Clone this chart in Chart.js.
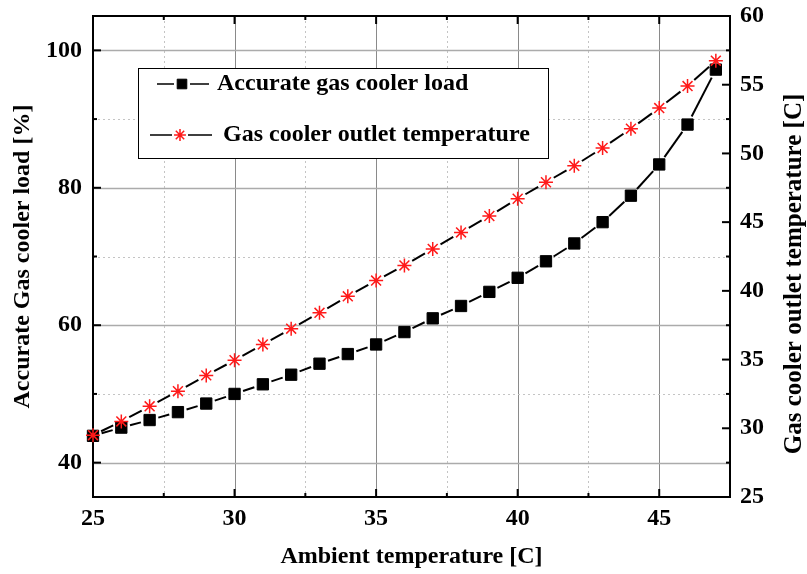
<!DOCTYPE html>
<html>
<head>
<meta charset="utf-8">
<script src="https://cdn.jsdelivr.net/npm/chart.js@4/dist/chart.umd.min.js"></script>
<style>
  html, body { margin: 0; padding: 0; background: #fff; }
  #wrap { width: 807px; height: 574px; position: relative; }
</style>
</head>
<body>
<div id="wrap"><canvas id="chart"></canvas></div>
<script>
// ambient temperature [C]
const ambientT = [25, 26, 27, 28, 29, 30, 31, 32, 33, 34, 35, 36, 37, 38, 39, 40, 41, 42, 43, 44, 45, 46, 47];
// accurate gas cooler load [%]
const coolerLoad = [43.9, 45.1, 46.2, 47.35, 48.6, 50.0, 51.4, 52.8, 54.4, 55.8, 57.2, 59.0, 61.0, 62.8, 64.85,
  66.9, 69.3, 71.9, 75.0, 78.85, 83.4, 89.2, 97.2];
// gas cooler outlet temperature [C]
const outletT = [29.5, 30.5, 31.6, 32.7, 33.85, 34.95, 36.1, 37.25, 38.4, 39.6, 40.75, 41.85, 43.05, 44.25, 45.45,
  46.7, 47.9, 49.1, 50.4, 51.8, 53.3, 54.9, 56.75];

const xTicks = [25, 30, 35, 40, 45];
const loadTicks = [40, 60, 80, 100];
const outletTicks = [25, 30, 35, 40, 45, 50, 55, 60];

const serif = "'Liberation Serif', 'Times New Roman', serif";
const tickFont = { family: serif, size: 24, weight: 'bold' };
const titleFont = { family: serif, size: 24, weight: 'bold' };

const setTicks = list => scale => { scale.ticks = list.map(v => ({ value: v })); };
// keep the plot box fixed: no extra room for overhanging labels
const fitY = w => s => { s.width = w; s.paddingTop = 0; s.paddingBottom = 0; };

// grid lines and frame behind the data (major solid, minor dotted)
const gridPlugin = {
  id: 'gridPlugin',
  beforeDatasetsDraw(chart) {
    const { ctx, chartArea: a, scales } = chart;
    const x = scales.x, y = scales.y, y2 = scales.y2;
    ctx.save();
    for (let v = 27.5; v < x.max; v += 2.5) {
      const px = Math.round(x.getPixelForValue(v)) + 0.5;
      const major = v % 5 === 0;
      ctx.strokeStyle = major ? '#8a8a8a' : '#c4c4c4';
      ctx.lineWidth = 1;
      ctx.setLineDash(major ? [] : [2, 3]);
      ctx.beginPath(); ctx.moveTo(px, a.top); ctx.lineTo(px, a.bottom); ctx.stroke();
    }
    for (let v = 40; v < y.max; v += 10) {
      const py = Math.round(y.getPixelForValue(v)) + 0.5;
      const major = v % 20 === 0;
      ctx.strokeStyle = major ? '#ababab' : '#c4c4c4';
      ctx.lineWidth = major ? 1.4 : 1;
      ctx.setLineDash(major ? [] : [2, 3]);
      ctx.beginPath(); ctx.moveTo(a.left, py); ctx.lineTo(a.right, py); ctx.stroke();
    }
    ctx.setLineDash([]);
    ctx.strokeStyle = '#000';
    ctx.lineWidth = 2;
    const tick = (x0, y0, x1, y1) => { ctx.beginPath(); ctx.moveTo(x0, y0); ctx.lineTo(x1, y1); ctx.stroke(); };
    for (let v = 25; v < x.max; v += 2.5) {
      const px = x.getPixelForValue(v);
      const len = v % 5 === 0 ? 8 : 4;
      tick(px, a.bottom, px, a.bottom - len);
      tick(px, a.top, px, a.top + len);
    }
    for (let v = 40; v < y.max; v += 10) {
      const py = y.getPixelForValue(v);
      tick(a.left, py, a.left + (v % 20 === 0 ? 8 : 4), py);
    }
    for (let v = 25; v <= y2.max; v += 2.5) {
      const py = y2.getPixelForValue(v);
      tick(a.right, py, a.right - (v % 5 === 0 ? 8 : 4), py);
    }
    ctx.strokeRect(a.left, a.top, a.right - a.left, a.bottom - a.top);
    ctx.restore();
  }
};

// connecting segments that stop short of each marker
const linkPlugin = {
  id: 'linkPlugin',
  beforeDatasetsDraw(chart) {
    const ctx = chart.ctx;
    ctx.save();
    ctx.strokeStyle = '#000';
    ctx.lineWidth = 2;
    chart.data.datasets.forEach((ds, di) => {
      const pts = chart.getDatasetMeta(di).data;
      const gap = ds.linkGap;
      for (let i = 1; i < pts.length; i++) {
        const p = pts[i - 1], q = pts[i];
        const dx = q.x - p.x, dy = q.y - p.y, len = Math.hypot(dx, dy);
        if (len <= 2 * gap) continue;
        const ux = dx / len, uy = dy / len;
        ctx.beginPath();
        ctx.moveTo(p.x + ux * gap, p.y + uy * gap);
        ctx.lineTo(q.x - ux * gap, q.y - uy * gap);
        ctx.stroke();
      }
    });
    ctx.restore();
  }
};

// legend box and the right axis title
const legendPlugin = {
  id: 'legendPlugin',
  afterDraw(chart) {
    const ctx = chart.ctx;
    const sets = chart.data.datasets;
    ctx.save();
    ctx.fillStyle = '#fff';
    ctx.fillRect(138, 68, 410, 90);
    ctx.strokeStyle = '#000';
    ctx.lineWidth = 1;
    ctx.strokeRect(138.5, 68.5, 410, 90);
    const rows = [
      { ds: sets[1], y: 84, x0: 157, x1: 209, tx: 217 },
      { ds: sets[0], y: 135, x0: 150, x1: 212, tx: 223 }
    ];
    ctx.font = `bold ${titleFont.size}px ${serif}`;
    ctx.textBaseline = 'middle';
    rows.forEach(r => {
      const mx = (r.x0 + r.x1) / 2 - 1;
      ctx.strokeStyle = '#000';
      ctx.lineWidth = 1.5;
      ctx.beginPath();
      ctx.moveTo(r.x0, r.y); ctx.lineTo(mx - 8, r.y);
      ctx.moveTo(mx + 8, r.y); ctx.lineTo(r.x1, r.y);
      ctx.stroke();
      ctx.fillStyle = r.ds.pointBackgroundColor;
      ctx.strokeStyle = r.ds.pointBorderColor;
      ctx.lineWidth = r.ds.pointBorderWidth;
      Chart.helpers.drawPoint(ctx, { pointStyle: r.ds.pointStyle, radius: r.ds.pointRadius * 0.85, borderWidth: r.ds.pointBorderWidth, rotation: 0 }, mx, r.y);
      ctx.fillStyle = '#000';
      ctx.textAlign = 'left';
      ctx.fillText(r.ds.label, r.tx, r.y);
    });
    // right axis title, reading bottom to top
    ctx.translate(795, 274);
    ctx.rotate(-Math.PI / 2);
    ctx.textAlign = 'center';
    ctx.fillStyle = '#000';
    ctx.font = `bold 25px ${serif}`;
    ctx.fillText('Gas cooler outlet temperature [C]', 0, 0);
    ctx.restore();
  }
};

new Chart(document.getElementById('chart'), {
  type: 'scatter',
  data: {
    datasets: [
      {
        label: 'Gas cooler outlet temperature',
        data: ambientT.map((t, i) => ({ x: t, y: outletT[i] })),
        yAxisID: 'y2',
        order: 0,
        clip: false,
        showLine: false,
        pointStyle: 'star',
        pointRadius: 7,
        pointHoverRadius: 7,
        pointBorderWidth: 1.5,
        pointBorderColor: '#ff1a1a',
        pointBackgroundColor: '#ff1a1a',
        linkGap: 9
      },
      {
        label: 'Accurate gas cooler load',
        data: ambientT.map((t, i) => ({ x: t, y: coolerLoad[i] })),
        yAxisID: 'y',
        order: 1,
        clip: false,
        showLine: false,
        pointStyle: 'rect',
        pointRadius: 8,
        pointHoverRadius: 8,
        pointBorderWidth: 1,
        pointBorderColor: '#000',
        pointBackgroundColor: '#000',
        linkGap: 9
      }
    ]
  },
  options: {
    responsive: true,
    maintainAspectRatio: false,
    animation: false,
    layout: { padding: { top: 16, left: 0, right: 0, bottom: 0 } },
    plugins: { legend: { display: false }, tooltip: { enabled: false } },
    scales: {
      x: {
        type: 'linear',
        min: 25,
        max: 47.5,
        afterBuildTicks: setTicks(xTicks),
        afterFit: s => { s.height = 77; s.paddingLeft = 0; s.paddingRight = 0; },
        grid: { display: false, drawTicks: false },
        border: { display: false },
        ticks: { font: tickFont, color: '#000', padding: 7, maxRotation: 0 },
        title: { display: true, text: 'Ambient temperature [C]', font: titleFont, color: '#000', padding: { top: 0, bottom: 3 } }
      },
      y: {
        type: 'linear',
        position: 'left',
        min: 35,
        max: 105,
        afterBuildTicks: setTicks(loadTicks),
        afterFit: fitY(93),
        grid: { display: false, drawTicks: false },
        border: { display: false },
        ticks: { font: tickFont, color: '#000', padding: 11 },
        title: { display: true, text: 'Accurate Gas cooler load [%]', font: titleFont, color: '#000', padding: { top: 8, bottom: 0 } }
      },
      y2: {
        type: 'linear',
        position: 'right',
        min: 25,
        max: 60,
        afterBuildTicks: setTicks(outletTicks),
        afterFit: fitY(77),
        grid: { display: false, drawTicks: false },
        border: { display: false },
        ticks: { font: tickFont, color: '#000', padding: 10 }
      }
    }
  },
  plugins: [gridPlugin, linkPlugin, legendPlugin]
});
</script>
</body>
</html>
